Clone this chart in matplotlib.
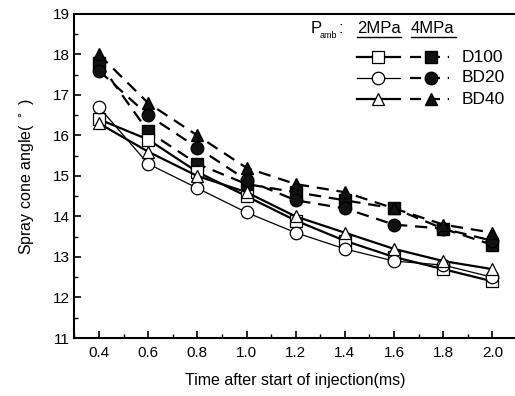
import matplotlib
matplotlib.use("Agg")
import matplotlib.pyplot as plt
from matplotlib.ticker import MultipleLocator

plt.rcParams['font.family'] = ['Liberation Sans', 'DejaVu Sans']

time = [0.4, 0.6, 0.8, 1.0, 1.2, 1.4, 1.6, 1.8, 2.0]

d100_2 = [16.4, 15.9, 15.1, 14.5, 13.9, 13.4, 13.0, 12.7, 12.4]
bd20_2 = [16.7, 15.3, 14.7, 14.1, 13.6, 13.2, 12.9, 12.8, 12.5]
bd40_2 = [16.3, 15.6, 15.0, 14.6, 14.0, 13.6, 13.2, 12.9, 12.7]

d100_4 = [17.8, 16.1, 15.3, 14.8, 14.6, 14.4, 14.2, 13.7, 13.3]
bd20_4 = [17.6, 16.5, 15.7, 14.9, 14.4, 14.2, 13.8, 13.7, 13.4]
bd40_4 = [18.0, 16.8, 16.0, 15.2, 14.8, 14.6, 14.2, 13.8, 13.6]

names = ["D100", "BD20", "BD40"]
markers = ["s", "o", "^"]
ms = [8, 9, 9]
series2 = [d100_2, bd20_2, bd40_2]
series4 = [d100_4, bd20_4, bd40_4]
lw2 = [1.6, 0.9, 1.6]

fig = plt.figure(figsize=(5.15, 3.96), dpi=100)
ax = fig.add_axes([74.4/515, 1-338/396, (517-74.4)/515, (338-14)/396])

dash = (0, (5.5, 3.5))
for y, m, s in zip(series4, markers, ms):
    ax.plot(time, y, color='black', lw=1.6, linestyle=dash, marker=m, ms=s,
            mfc='#111111', mec='black', zorder=3)
for y, m, s, lw in zip(series2, markers, ms, lw2):
    ax.plot(time, y, color='black', lw=lw, linestyle='-', marker=m, ms=s,
            mfc='white', mec='black', mew=0.9, zorder=4)

ax.set_xlim(0.3, 2.1)
ax.set_ylim(11, 19)
ax.xaxis.set_minor_locator(MultipleLocator(0.1))
ax.yaxis.set_major_locator(MultipleLocator(1))
ax.yaxis.set_minor_locator(MultipleLocator(0.5))
ax.set_xticks(time)
ax.set_xticklabels(["0.4", "0.6", "0.8", "1.0", "1.2", "1.4", "1.6", "1.8", "2.0"])
ax.tick_params(which='both', direction='in', top=False, right=False, labelsize=11)
ax.tick_params(which='major', length=5, width=1.2)
ax.tick_params(which='minor', length=3, width=1.0)
ax.tick_params(axis='x', pad=6)
ax.spines['right'].set_visible(False)
for sp in ['left', 'bottom', 'top']:
    ax.spines[sp].set_linewidth(1.5)

ax.set_xlabel("Time after start of injection(ms)", fontsize=11.5, labelpad=9)
ax.set_ylabel("Spray cone angle( $^\\circ$ )", fontsize=11.5, labelpad=12)

# custom legend (figure pixel coordinates)
W, H = 515, 396
def fx(px): return px / W
def fy(py): return 1 - py / H

fig.text(fx(311), fy(33), "P", fontsize=12, va='baseline')
fig.text(fx(320), fy(38), "amb", fontsize=6.5, va='baseline')
fig.text(fx(338), fy(33), ":", fontsize=12, va='baseline')
fig.text(fx(357), fy(33), "2MPa", fontsize=12, va='baseline')
fig.text(fx(411), fy(33), "4MPa", fontsize=12, va='baseline')
fig.add_artist(plt.Line2D([fx(357), fx(401)], [fy(37), fy(37)], color='black', lw=1.0))
fig.add_artist(plt.Line2D([fx(411), fx(456)], [fy(37), fy(37)], color='black', lw=1.0))

rows = [57, 78, 99]
for name, m, s, lw, py in zip(names, markers, ms, lw2, rows):
    fig.add_artist(plt.Line2D([fx(357), fx(400)], [fy(py), fy(py)], color='black', lw=lw))
    fig.add_artist(plt.Line2D([fx(378)], [fy(py)], marker=m, ms=s, mfc='white',
                              mec='black', mew=0.9, linestyle='none'))
    fig.add_artist(plt.Line2D([fx(410), fx(449)], [fy(py), fy(py)], color='black', lw=1.6,
                              linestyle=(0, (5, 3.5))))
    fig.add_artist(plt.Line2D([fx(431)], [fy(py)], marker=m, ms=s, mfc='#111111',
                              mec='black', linestyle='none'))
    fig.text(fx(462), fy(py), name, fontsize=12.5, va='center')

fig.savefig("out.png", dpi=100)
